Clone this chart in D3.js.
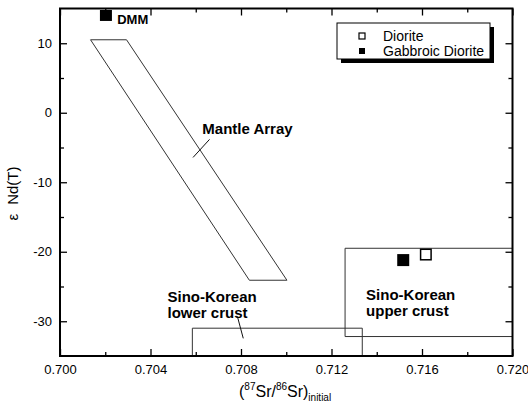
<!DOCTYPE html>
<html>
<head>
<meta charset="utf-8">
<script src="https://cdn.jsdelivr.net/npm/d3@7"></script>
<style>
  html, body { margin: 0; padding: 0; background: #fff; }
  svg { display: block; font-family: "Liberation Sans", Arial, sans-serif; }
</style>
</head>
<body>
<svg id="chart" width="528" height="415"></svg>
<script>
// ---- data ----
const xDomain = [0.700, 0.720];
const yDomain = [-35, 15];
const xMajorTicks = [0.700, 0.704, 0.708, 0.712, 0.716, 0.720];
const xMinorTicks = [0.702, 0.706, 0.710, 0.714, 0.718];
const yMajorTicks = [-30, -20, -10, 0, 10];
const yMinorTicks = [-25, -15, -5, 5];

const seriesNames = ["Diorite", "Gabbroic Diorite"];
const dioriteSr = [0.71617];
const dioriteNd = [-20.4];
const gabbroSr = [0.71517];
const gabbroNd = [-21.2];

const dmmSr = [0.70203];
const dmmNd = [14.0];

const mantleArraySr = [0.70135, 0.70294, 0.71003, 0.70837];
const mantleArrayNd = [10.5, 10.5, -24.1, -24.1];

const lowerCrustSr = [0.70585, 0.70585, 0.71336, 0.71336];
const lowerCrustNd = [-35, -31.0, -31.0, -35];

const upperCrustSr = [0.7126, 0.7126, 0.7200, 0.7200];
const upperCrustNd = [-32.2, -19.5, -19.5, -32.2];

// ---- layout ----
const svg = d3.select("#chart");
const m = { left: 60, top: 8.5, right: 512.5, bottom: 356 };
const x = d3.scaleLinear().domain(xDomain).range([m.left, m.right]);
const y = d3.scaleLinear().domain(yDomain).range([m.bottom, m.top]);

const lineCol = "#333";

function poly(xs, ys, closed) {
  const pts = xs.map((v, i) => [x(v), y(ys[i])]);
  return (closed ? d3.line()(pts.concat([pts[0]])) : d3.line()(pts));
}

// regions
svg.append("path").attr("d", poly(mantleArraySr, mantleArrayNd, true))
  .attr("fill", "none").attr("stroke", lineCol).attr("stroke-width", 1);
svg.append("path").attr("d", poly(lowerCrustSr, lowerCrustNd, false))
  .attr("fill", "none").attr("stroke", lineCol).attr("stroke-width", 1);
svg.append("path").attr("d", poly(upperCrustSr, upperCrustNd, true))
  .attr("fill", "none").attr("stroke", lineCol).attr("stroke-width", 1);

// leader lines
const leaders = [
  [[0.70588, -6.43], [0.70661, -3.83]],
  [[0.70784, -29.3], [0.70810, -32.46]]
];
leaders.forEach(l => {
  svg.append("line")
    .attr("x1", x(l[0][0])).attr("y1", y(l[0][1]))
    .attr("x2", x(l[1][0])).attr("y2", y(l[1][1]))
    .attr("stroke", "#111").attr("stroke-width", 1);
});

// axes
function addAxis(axis, transform) {
  const g = svg.append("g").attr("transform", transform).call(axis);
  g.select(".domain").remove();
  g.selectAll(".tick line").attr("stroke", "#000").attr("stroke-width", 1.3);
  g.selectAll("text").attr("fill", "#000").attr("font-size", 13)
    .attr("font-family", "'Liberation Sans', Arial, sans-serif");
  return g;
}
addAxis(d3.axisBottom(x).tickValues(xMajorTicks).tickSize(-7).tickPadding(9)
  .tickFormat(d3.format(".3f")), `translate(0,${m.bottom})`);
addAxis(d3.axisBottom(x).tickValues(xMinorTicks).tickSize(-4).tickFormat(""), `translate(0,${m.bottom})`);
addAxis(d3.axisTop(x).tickValues(xMajorTicks).tickSize(-7).tickFormat(""), `translate(0,${m.top})`);
addAxis(d3.axisTop(x).tickValues(xMinorTicks).tickSize(-4).tickFormat(""), `translate(0,${m.top})`);
addAxis(d3.axisLeft(y).tickValues(yMajorTicks).tickSize(-7).tickPadding(8)
  .tickFormat(d => String(d)), `translate(${m.left},0)`);
addAxis(d3.axisLeft(y).tickValues(yMinorTicks).tickSize(-4).tickFormat(""), `translate(${m.left},0)`);
addAxis(d3.axisRight(y).tickValues(yMajorTicks).tickSize(-7).tickFormat(""), `translate(${m.right},0)`);
addAxis(d3.axisRight(y).tickValues(yMinorTicks).tickSize(-4).tickFormat(""), `translate(${m.right},0)`);

// frame
svg.append("rect").attr("x", m.left).attr("y", m.top)
  .attr("width", m.right - m.left).attr("height", m.bottom - m.top)
  .attr("fill", "none").attr("stroke", "#000").attr("stroke-width", 2);

// points
const sq = 12;
svg.append("rect").attr("x", x(dmmSr[0]) - sq / 2).attr("y", y(dmmNd[0]) - sq / 2 + 0.5)
  .attr("width", sq).attr("height", sq - 1).attr("fill", "#000");
gabbroSr.forEach((v, i) => {
  svg.append("rect").attr("x", x(v) - sq / 2).attr("y", y(gabbroNd[i]) - sq / 2)
    .attr("width", sq).attr("height", sq).attr("fill", "#000");
});
dioriteSr.forEach((v, i) => {
  svg.append("rect").attr("x", x(v) - sq / 2 + 0.75).attr("y", y(dioriteNd[i]) - sq / 2 + 0.75)
    .attr("width", sq - 1.5).attr("height", sq - 1.5).attr("fill", "#fff")
    .attr("stroke", "#000").attr("stroke-width", 1.5);
});

// annotations
function label(lines, xv, yv, size, lh) {
  const t = svg.append("text").attr("x", x(xv)).attr("y", y(yv))
    .attr("font-size", size).attr("font-weight", "bold").attr("fill", "#000");
  lines.forEach((s, i) => {
    t.append("tspan").attr("x", x(xv)).attr("dy", i === 0 ? 0 : lh).text(s);
  });
}
label(["DMM"], 0.70253, 12.82, 13, 0);
label(["Mantle Array"], 0.70629, -3.1, 15, 0);
label(["Sino-Korean", "lower crust"], 0.70475, -27.3, 15, 16);
label(["Sino-Korean", "upper crust"], 0.71353, -27.0, 15, 16);

// legend
const lg = svg.append("g").attr("transform", "translate(337,23)");
lg.append("rect").attr("x", 4).attr("y", 4).attr("width", 153).attr("height", 36).attr("fill", "#000");
lg.append("rect").attr("x", 0).attr("y", 0).attr("width", 153).attr("height", 36)
  .attr("fill", "#fff").attr("stroke", "#000").attr("stroke-width", 1);
seriesNames.forEach((name, i) => {
  const cy = 13 + i * 15;
  const r = lg.append("rect").attr("x", 22).attr("y", cy - 3).attr("width", 6).attr("height", 6);
  if (i === 0) r.attr("fill", "#fff").attr("stroke", "#000").attr("stroke-width", 1.2);
  else r.attr("fill", "#000");
  lg.append("text").attr("x", 46).attr("y", cy + 4.5).attr("font-size", 14).attr("fill", "#000").text(name);
});

// axis titles
const xt = svg.append("text").attr("x", 239).attr("y", 397).attr("font-size", 16).attr("fill", "#000");
xt.append("tspan").text("(");
xt.append("tspan").attr("font-size", 10).attr("dy", -7).text("87");
xt.append("tspan").attr("dy", 7).text("Sr/");
xt.append("tspan").attr("font-size", 10).attr("dy", -7).text("86");
xt.append("tspan").attr("dy", 7).text("Sr)");
xt.append("tspan").attr("font-size", 10).attr("dy", 4).text("initial");

const yt = svg.append("text").attr("transform", "translate(18,193.5) rotate(-90)")
  .attr("text-anchor", "middle").attr("font-size", 15).attr("fill", "#000");
yt.append("tspan").text("ε");
yt.append("tspan").attr("dx", 9).text("Nd(T)");
</script>
</body>
</html>
